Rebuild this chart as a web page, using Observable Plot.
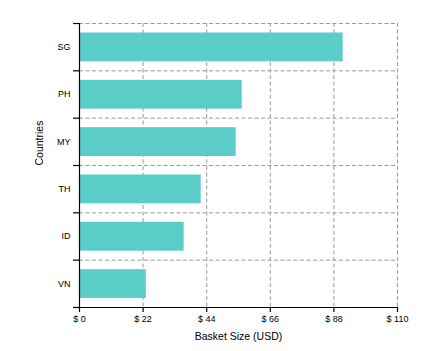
<!DOCTYPE html>
<html>
<head>
<meta charset="utf-8">
<script src="https://cdn.jsdelivr.net/npm/d3@7"></script>
<script src="https://cdn.jsdelivr.net/npm/@observablehq/plot@0.6"></script>
<style>
  html, body { margin: 0; padding: 0; background: #fff; }
  #chart svg { display: block; }
</style>
</head>
<body>
<div id="chart"></div>
<script>
const countries = ["SG", "PH", "MY", "TH", "ID", "VN"];
const basketSize = [91.2, 56.3, 54.2, 42.1, 36.2, 23.1];
const xTicks = [0, 22, 44, 66, 88, 110];

const data = countries.map((c, i) => ({country: c, value: basketSize[i], i}));
const boundaries = d3.range(0, countries.length + 1);
const centers = countries.map((c, i) => i + 0.5);

const chart = Plot.plot({
  width: 446,
  height: 351,
  marginLeft: 79,
  marginRight: 49,
  marginTop: 23,
  marginBottom: 44,
  style: {fontFamily: "'Liberation Sans', Arial, sans-serif", fontSize: "9px", color: "#000", background: "#fff"},
  x: {domain: [0, 110]},
  y: {domain: [countries.length, 0]},
  marks: [
    Plot.gridX(xTicks.slice(1), {stroke: "#999", strokeOpacity: 1, strokeDasharray: "4,2.5", strokeWidth: 1}),
    Plot.gridY(boundaries.slice(0, -1), {stroke: "#999", strokeOpacity: 1, strokeDasharray: "4,2.5", strokeWidth: 1}),
    Plot.rectX(data, {x1: 0, x2: "value", y1: "i", y2: d => d.i + 1, insetTop: 9.5, insetBottom: 9, fill: "#5bcdc9"}),
    Plot.axisY(boundaries, {tickSize: 6, tickFormat: () => "", label: null, strokeWidth: 1.2}),
    Plot.axisY(centers, {tickSize: 0, tickPadding: 9, tickFormat: d => countries[Math.floor(d)], label: null, fontSize: 9}),
    Plot.ruleX([0], {stroke: "#000", strokeWidth: 1.2}),
    Plot.ruleY([countries.length], {stroke: "#000", strokeWidth: 1.2}),
    Plot.axisX(xTicks, {tickSize: 5, tickPadding: 3, tickFormat: d => "$ " + d, label: null, fontSize: 9, strokeWidth: 1.2}),
    Plot.text(["Basket Size (USD)"], {frameAnchor: "bottom", dy: 32, fontSize: 10.5, text: d => d}),
    Plot.text(["Countries"], {frameAnchor: "left", dx: -40, rotate: -90, fontSize: 10.5, text: d => d})
  ]
});
document.getElementById("chart").appendChild(chart);
</script>
</body>
</html>
